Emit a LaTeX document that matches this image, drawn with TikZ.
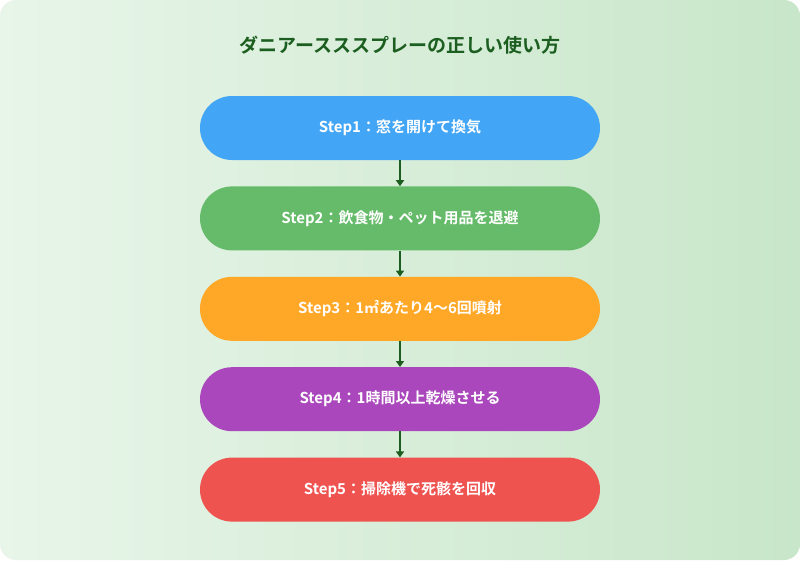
\documentclass[tikz,border=0pt]{standalone}
\usepackage{fontspec}
\setmainfont{Noto Sans CJK JP}[BoldFont={* Bold}]
\usetikzlibrary{arrows.meta,positioning}
\definecolor{titlegreen}{HTML}{1B5E20}
\definecolor{bgA}{HTML}{E8F5E9}
\definecolor{bgB}{HTML}{C8E6C9}
\definecolor{sA}{HTML}{42A5F5}
\definecolor{sB}{HTML}{66BB6A}
\definecolor{sC}{HTML}{FFA726}
\definecolor{sD}{HTML}{AB47BC}
\definecolor{sE}{HTML}{EF5350}
\tikzset{
  step/.style={fill=#1, rounded corners=32pt, minimum width=400pt, minimum height=64pt,
    text=white, font=\bfseries\fontsize{15pt}{18pt}\selectfont, inner sep=0pt},
  flow/.style={-{Triangle[length=6pt,width=8pt]}, titlegreen, line width=2pt}
}
\begin{document}
\begin{tikzpicture}[x=1pt,y=-1pt]
    % Background
    \useasboundingbox (0,0) rectangle (800,560);
    \shade[left color=bgA, right color=bgB, rounded corners=16pt] (0,0) rectangle (800,560);
    \node[font=\bfseries\fontsize{19pt}{22pt}\selectfont, text=titlegreen] (title) at (400,45) {ダニアースススプレーの正しい使い方};

    % Steps
    \node[step=sA] (s1) at (400,128) {Step1：窓を開けて換気};
    \node[step=sB, below=26pt of s1] (s2) {Step2：飲食物・ペット用品を退避};
    \node[step=sC, below=26pt of s2] (s3) {Step3：1㎡あたり4〜6回噴射};
    \node[step=sD, below=26pt of s3] (s4) {Step4：1時間以上乾燥させる};
    \node[step=sE, below=26pt of s4] (s5) {Step5：掃除機で死骸を回収};

    % Arrows
    \foreach \a/\b in {s1/s2, s2/s3, s3/s4, s4/s5}
        \draw[flow] (\a) -- (\b);
\end{tikzpicture}
\end{document}
